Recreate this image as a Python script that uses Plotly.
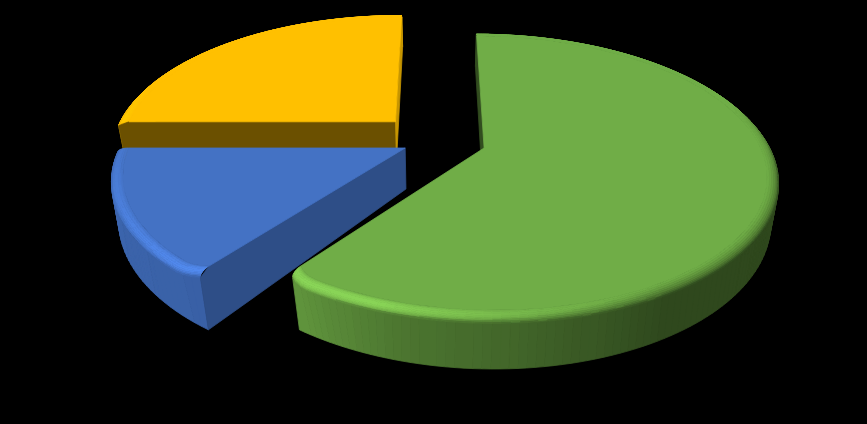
import numpy as np
import plotly.graph_objects as go

segments = ["Green", "Blue", "Yellow"]
shares = [60.5, 14.5, 25]

colors = [(112, 173, 71), (68, 114, 196), (255, 192, 0)]
# how far each slice is pulled out of the pie
offset_x = [0.167, -0.107, -0.146]
offset_y = [0.0, 0.0, 0.197]
# darkness of the two cut faces of each slice, None when it faces away
start_cut = [0.45, 0.69, 0.42]
end_cut = [None, None, 0.78]

# camera
CX, CY = 436, 148
A, B, K, WALL, DROP = 288, 138, 0.19, 41, 0.025


def project(x, y, z):
    w = 1 + K * y
    return CX + A * x / w * (1 - DROP * z), CY - B * y / w + WALL * z / w


def wall_shade(t):
    return np.interp(t, [90, 150, 175, 195, 215, 270, 360], [0.42, 0.42, 0.58, 0.68, 0.85, 0.9, 0.9])


def rim_shade(t):
    fade = np.interp(t, [0, 70, 100, 265, 285, 360], [0, 0, 1, 1, 0, 0])
    return 1 + (wall_shade(t) - 1) * fade


def glow(t):
    return np.interp(t, [150, 180, 200, 215, 240, 270, 290], [0, 0.2, 0.34, 0.3, 0.2, 0.08, 0])


def corner(t, z, edge0, edge1):
    # only the front corner of a slice is rounded off, and it leans a little
    r, lean = 1.0, 0.0
    for edge in (edge0, edge1):
        if 200 < edge < 230:
            r -= 0.03 * (1 - z) * max(0, 1 - abs(t - edge) / 5) ** 2
            lean -= 2.5 * z * max(0, 1 - abs(t - edge) / 20)
    return r, lean


def col(base, shade):
    shade = round(shade * 100) / 100
    return "rgb(%d,%d,%d)" % tuple(min(255, int(b * shade)) for b in base)


def point(i, t, r, z):
    cr, lean = corner(t, z, edges[i], edges[i + 1])
    a = np.radians(t + lean)
    return project(offset_x[i] + r * cr * np.sin(a), offset_y[i] + r * cr * np.cos(a), z)


def add_group(fig, groups):
    for c, (xs, ys) in groups.items():
        fig.add_trace(go.Scatter(x=xs, y=ys, mode="lines", fill="toself", fillcolor=c,
                                 line=dict(color=c, width=0.8), hoverinfo="skip", showlegend=False))


def add_poly(groups, c, pts):
    xs, ys = groups.setdefault(c, ([], []))
    xs.extend([float(p[0]) for p in pts] + [float(pts[0][0]), None])
    ys.extend([float(p[1]) for p in pts] + [float(pts[0][1]), None])


edges = np.cumsum([0] + [s * 3.6 for s in shares])
fig = go.Figure()

for i in [2, 1, 0]:
    t0, t1 = edges[i], edges[i + 1]
    base = colors[i]
    ts = np.linspace(t0, t1, int((t1 - t0) / 1.5) + 2)

    # outer wall
    groups = {}
    for a, b in zip(ts[:-1], ts[1:]):
        add_poly(groups, col(base, wall_shade((a + b) / 2)),
                 [point(i, a, 1, 0.1), point(i, b, 1, 0.1), point(i, b, 1, 1), point(i, a, 1, 1)])
    add_group(fig, groups)

    # rounded rim between wall and top
    groups = {}
    steps = np.linspace(0, 1, 9)
    for a, b in zip(ts[:-1], ts[1:]):
        m = (a + b) / 2
        for u, v in zip(steps[:-1], steps[1:]):
            c = (u + v) / 2
            sh = (1 + (rim_shade(m) - 1) * c ** 1.5) * (1 + glow(m) * 4 * c * (1 - c))
            r1, r2 = 0.96 + 0.04 * np.sin(u * np.pi / 2), 0.96 + 0.04 * np.sin(v * np.pi / 2)
            z1, z2 = 0.1 * (1 - np.cos(u * np.pi / 2)), 0.1 * (1 - np.cos(v * np.pi / 2))
            add_poly(groups, col(base, sh), [point(i, a, r1, z1), point(i, b, r1, z1), point(i, b, r2, z2), point(i, a, r2, z2)])
    add_group(fig, groups)

    # cut faces
    groups = {}
    for t, sh in ((t0, start_cut[i]), (t1, end_cut[i])):
        if sh is not None:
            add_poly(groups, col(base, sh), [point(i, t, 0, 0), point(i, t, 0.96, 0), point(i, t, 1, 0.1), point(i, t, 1, 1), point(i, t, 0, 1)])
    add_group(fig, groups)

    # top face
    groups = {}
    add_poly(groups, col(base, 1), [point(i, t0, 0, 0)] + [point(i, t, 0.96, 0) for t in ts])
    add_group(fig, groups)

fig.update_layout(
    width=867, height=424,
    margin=dict(l=0, r=0, t=0, b=0),
    paper_bgcolor="black", plot_bgcolor="black",
    showlegend=False,
    xaxis=dict(range=[0, 867], visible=False, fixedrange=True),
    yaxis=dict(range=[424, 0], visible=False, fixedrange=True),
)

fig.write_html("out.html", config={"displayModeBar": False},
               post_script="document.body.style.margin='0';document.body.style.background='black';")
